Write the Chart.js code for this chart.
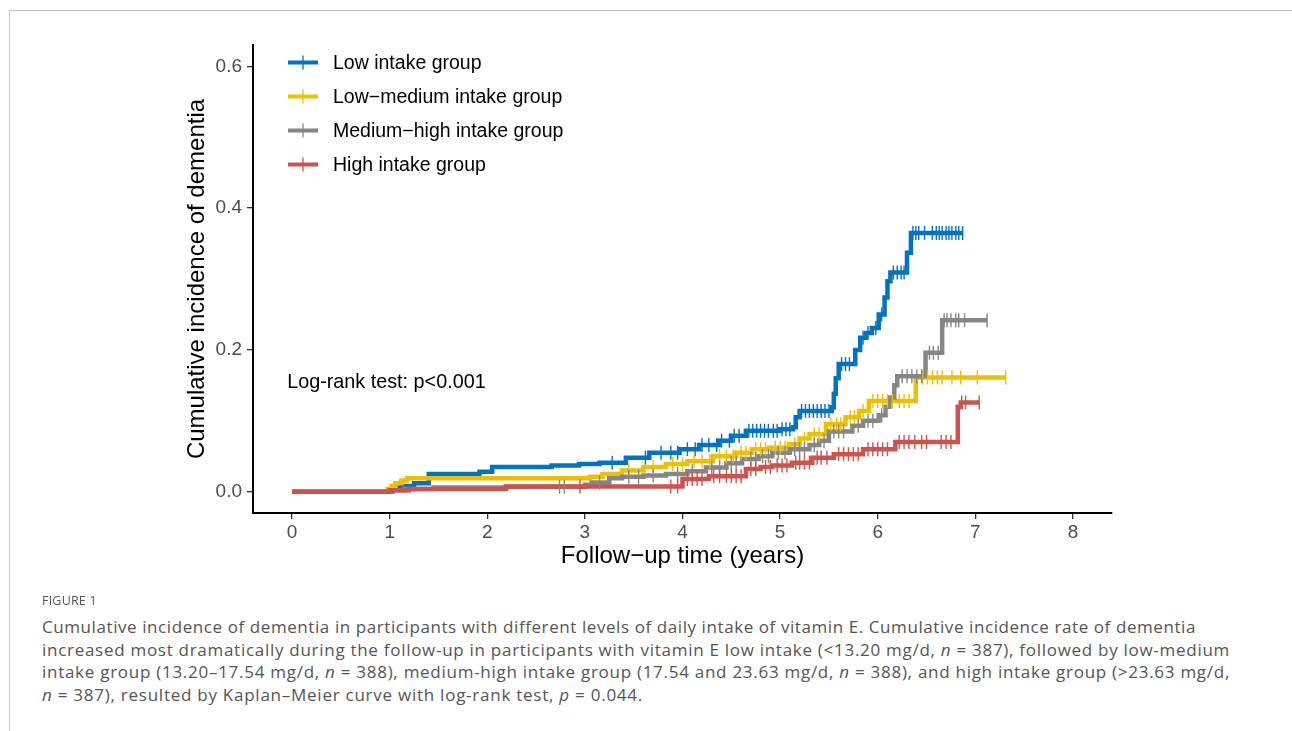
<!DOCTYPE html>
<html>
<head>
<meta charset="utf-8">
<script src="https://cdn.jsdelivr.net/npm/chart.js@4.4.1/dist/chart.umd.min.js"></script>
<style>
  html, body { margin: 0; padding: 0; background: #fff; }
  body { width: 1292px; height: 731px; position: relative; overflow: hidden; }
  #frame { position: absolute; left: 9px; top: 10px; width: 1300px; height: 760px;
           border-top: 1px solid #bdbdbd; border-left: 1px solid #c8c8c8; }
  #c { position: absolute; left: 0; top: 0; }
  #fig { position: absolute; left: 42px; top: 592px; font-family: "Open Sans", "Noto Sans", sans-serif;
         font-size: 12.5px; color: #555; letter-spacing: 0.2px; }
  #cap { position: absolute; left: 42px; top: 616px; font-family: "Open Sans", "Noto Sans", sans-serif;
         font-size: 17px; line-height: 22.7px; color: #555; white-space: nowrap; }
  #cap span { display: inline-block; }
</style>
</head>
<body>
<div id="frame"></div>
<canvas id="c" width="1292" height="600"></canvas>
<div id="fig">FIGURE 1</div>
<div id="cap"><span data-w="1154">Cumulative incidence of dementia in participants with different levels of daily intake of vitamin E. Cumulative incidence rate of dementia</span><br><span data-w="1188">increased most dramatically during the follow-up in participants with vitamin E low intake (&lt;13.20 mg/d, <i>n</i> = 387), followed by low-medium</span><br><span data-w="1188">intake group (13.20–17.54 mg/d, <i>n</i> = 388), medium-high intake group (17.54 and 23.63 mg/d, <i>n</i> = 388), and high intake group (&gt;23.63 mg/d,</span><br><span data-w="601"><i>n</i> = 387), resulted by Kaplan–Meier curve with log-rank test, <i>p</i> = 0.044.</span></div>
<script>
// ---- data ----
const seriesNames = ["Low intake group", "Low\u2212medium intake group", "Medium\u2212high intake group", "High intake group"];
const seriesColors = ["#0073C2", "#EFC000", "#868686", "#CD534C"];

const lowTimes = [0, 1.02, 1.10, 1.25, 1.40, 1.92, 2.05, 2.66, 2.94, 3.15, 3.42, 3.66, 3.97, 4.17, 4.37, 4.50, 4.65, 5.00, 5.13, 5.16, 5.20, 5.53, 5.55, 5.57, 5.60, 5.77, 5.82, 5.88, 5.94, 6.01, 6.07, 6.10, 6.13, 6.30, 6.34, 6.87];
const lowValues = [0, 0.003, 0.008, 0.012, 0.025, 0.028, 0.035, 0.037, 0.039, 0.041, 0.048, 0.055, 0.060, 0.066, 0.072, 0.079, 0.086, 0.088, 0.091, 0.105, 0.114, 0.119, 0.138, 0.160, 0.180, 0.200, 0.217, 0.224, 0.231, 0.250, 0.274, 0.297, 0.309, 0.337, 0.365, 0.365];

const lowMedTimes = [0, 0.98, 1.02, 1.06, 1.12, 1.18, 3.05, 3.18, 3.38, 3.60, 3.83, 4.05, 4.31, 4.55, 4.71, 4.89, 5.09, 5.20, 5.30, 5.47, 5.67, 5.81, 5.91, 6.39, 7.31];
const lowMedValues = [0, 0.004, 0.008, 0.012, 0.016, 0.019, 0.021, 0.025, 0.030, 0.035, 0.039, 0.043, 0.050, 0.055, 0.060, 0.062, 0.067, 0.075, 0.081, 0.095, 0.105, 0.114, 0.128, 0.161, 0.161];

const medHighTimes = [0, 1.03, 1.15, 1.45, 2.20, 3.00, 3.07, 3.25, 3.38, 3.60, 3.83, 4.05, 4.24, 4.45, 4.61, 4.78, 4.92, 5.10, 5.30, 5.40, 5.50, 5.74, 5.85, 6.01, 6.08, 6.12, 6.17, 6.20, 6.49, 6.66, 7.12];
const medHighValues = [0, 0.002, 0.004, 0.006, 0.007, 0.010, 0.013, 0.019, 0.021, 0.023, 0.025, 0.029, 0.034, 0.040, 0.046, 0.050, 0.055, 0.060, 0.066, 0.072, 0.085, 0.093, 0.100, 0.108, 0.120, 0.133, 0.150, 0.163, 0.196, 0.242, 0.242];

const highTimes = [0, 1.00, 1.20, 2.19, 4.00, 4.27, 4.65, 4.80, 4.92, 5.12, 5.33, 5.55, 5.85, 6.18, 6.82, 6.85, 7.04];
const highValues = [0, 0.002, 0.004, 0.0075, 0.018, 0.022, 0.032, 0.035, 0.037, 0.041, 0.048, 0.053, 0.060, 0.070, 0.120, 0.126, 0.126];

const lowCensor = [3.28, 3.62, 3.78, 3.88, 3.95, 4.05, 4.13, 4.2, 4.27, 4.35, 4.4, 4.48, 4.53, 4.58, 4.68, 4.72, 4.76, 4.8, 4.84, 4.88, 4.93, 4.97, 5.02, 5.06, 5.1, 5.22, 5.26, 5.3, 5.34, 5.38, 5.42, 5.46, 5.5, 5.63, 5.67, 5.71, 5.85, 5.9, 5.98, 6.04, 6.16, 6.2, 6.24, 6.27, 6.36, 6.39, 6.42, 6.48, 6.56, 6.6, 6.63, 6.66, 6.7, 6.73, 6.76, 6.8, 6.83, 6.87];
const lowMedCensor = [3.45, 3.7, 3.9, 4.0, 4.12, 4.2, 4.28, 4.38, 4.45, 4.52, 4.6, 4.65, 4.75, 4.8, 4.85, 4.95, 5.0, 5.05, 5.15, 5.25, 5.35, 5.4, 5.52, 5.58, 5.62, 5.72, 5.76, 5.85, 5.95, 6.0, 6.05, 6.1, 6.15, 6.22, 6.27, 6.32, 6.46, 6.51, 6.56, 6.61, 6.66, 6.76, 6.85, 7.02, 7.31];
const medHighCensor = [2.74, 2.79, 3.15, 3.45, 3.55, 3.7, 3.95, 4.1, 4.3, 4.38, 4.5, 4.55, 4.7, 4.75, 4.82, 4.88, 4.98, 5.05, 5.15, 5.2, 5.25, 5.35, 5.45, 5.55, 5.6, 5.65, 5.8, 5.9, 5.95, 6.04, 6.25, 6.3, 6.35, 6.4, 6.45, 6.53, 6.57, 6.62, 6.68, 6.71, 6.75, 6.8, 6.83, 6.89, 7.12];
const highCensor = [2.95, 3.88, 3.95, 4.05, 4.1, 4.15, 4.2, 4.32, 4.38, 4.45, 4.5, 4.55, 4.6, 4.7, 4.75, 4.85, 4.9, 4.97, 5.02, 5.07, 5.16, 5.2, 5.25, 5.3, 5.38, 5.42, 5.48, 5.6, 5.65, 5.7, 5.75, 5.8, 5.9, 5.95, 6.0, 6.05, 6.1, 6.22, 6.27, 6.32, 6.38, 6.45, 6.5, 6.65, 6.7, 6.75, 6.86, 6.9, 7.04];

const xTicks = [0, 1, 2, 3, 4, 5, 6, 7, 8];
const yTicks = [0.0, 0.2, 0.4, 0.6];
const xTitle = "Follow\u2212up time (years)";
const yTitle = "Cumulative incidence of dementia";
const pvalText = "Log-rank test: p<0.001";
const pvalPos = [-0.05, 0.1535];

// ---- caption line fitting (layout only) ----
document.querySelectorAll('#cap span').forEach(sp => {
  const target = Number(sp.dataset.w);
  const natural = sp.getBoundingClientRect().width;
  const n = sp.textContent.length;
  sp.style.letterSpacing = ((target - natural) / n) + 'px';
});

// ---- build ----
const allTimes = [lowTimes, lowMedTimes, medHighTimes, highTimes];
const allValues = [lowValues, lowMedValues, medHighValues, highValues];
const allCensor = [lowCensor, lowMedCensor, medHighCensor, highCensor];

function stepValueAt(times, values, t) {
  let v = values[0];
  for (let i = 0; i < times.length; i++) { if (times[i] <= t) v = values[i]; else break; }
  return v;
}

const FONT = "'Liberation Sans', Arial, sans-serif";
const datasets = [];
for (let i = 0; i < 4; i++) {
  datasets.push({
    label: seriesNames[i],
    data: allTimes[i].map((t, k) => ({ x: t, y: allValues[i][k] })),
    borderColor: seriesColors[i],
    backgroundColor: seriesColors[i],
    borderWidth: 4.5,
    stepped: true,
    pointRadius: 0,
    fill: false,
    order: 10 - i
  });
}
for (let i = 0; i < 4; i++) {
  datasets.push({
    label: seriesNames[i] + " censor",
    data: allCensor[i].map(t => ({ x: t, y: stepValueAt(allTimes[i], allValues[i], t) })),
    showLine: false,
    pointStyle: 'line',
    rotation: 90,
    pointRadius: 7,
    pointBorderWidth: 1.4,
    pointBorderColor: seriesColors[i],
    borderColor: seriesColors[i],
    order: 4 - i
  });
}

const overlayPlugin = {
  id: 'kmOverlay',
  afterDraw(chart) {
    const c = chart.ctx, a = chart.chartArea;
    c.save();
    c.font = "19.5px " + FONT;
    c.textBaseline = 'middle';
    c.textAlign = 'left';
    for (let i = 0; i < seriesNames.length; i++) {
      const y = a.top + 17.5 + 34 * i;
      const x0 = a.left + 35;
      c.strokeStyle = seriesColors[i];
      c.lineWidth = 4;
      c.beginPath(); c.moveTo(x0, y); c.lineTo(x0 + 30, y); c.stroke();
      c.lineWidth = 1.3;
      c.beginPath(); c.moveTo(x0 + 15, y - 7); c.lineTo(x0 + 15, y + 7); c.stroke();
      c.fillStyle = '#000';
      c.fillText(seriesNames[i], x0 + 45, y + 1);
    }
    const xs = chart.scales.x, ys = chart.scales.y;
    c.font = "19.8px " + FONT;
    c.fillStyle = '#000';
    c.fillText(pvalText, xs.getPixelForValue(pvalPos[0]), ys.getPixelForValue(pvalPos[1]));
    c.restore();
  }
};

new Chart(document.getElementById('c'), {
  type: 'line',
  data: { datasets },
  plugins: [overlayPlugin],
  options: {
    responsive: false,
    animation: false,
    layout: { padding: { left: 0, right: 180, top: 45, bottom: 27 } },
    plugins: { legend: { display: false }, tooltip: { enabled: false } },
    scales: {
      x: {
        type: 'linear', min: -0.4, max: 8.4,
        afterBuildTicks: ax => { ax.ticks = xTicks.map(v => ({ value: v })); },
        afterFit: s => { s.height = 60; },
        ticks: { color: '#4D4D4D', font: { family: FONT, size: 19 }, padding: 2, callback: v => String(v) },
        grid: { drawOnChartArea: false, drawTicks: true, tickLength: 6, color: '#333', lineWidth: 1.3 },
        border: { display: true, color: '#000', width: 2 },
        title: { display: true, text: xTitle, color: '#000', font: { family: FONT, size: 24 }, padding: { top: 0, bottom: 2 } }
      },
      y: {
        type: 'linear', min: -0.03, max: 0.63,
        afterBuildTicks: ax => { ax.ticks = yTicks.map(v => ({ value: v })); },
        afterFit: s => { s.width = 253; },
        ticks: { color: '#4D4D4D', font: { family: FONT, size: 19 }, padding: 5, callback: v => Number(v).toFixed(1) },
        grid: { drawOnChartArea: false, drawTicks: true, tickLength: 6, color: '#333', lineWidth: 1.3 },
        border: { display: true, color: '#000', width: 2 },
        title: { display: true, text: yTitle, color: '#000', font: { family: FONT, size: 24 }, padding: { top: 183, bottom: 0 } }
      }
    }
  }
});
</script>
</body>
</html>
